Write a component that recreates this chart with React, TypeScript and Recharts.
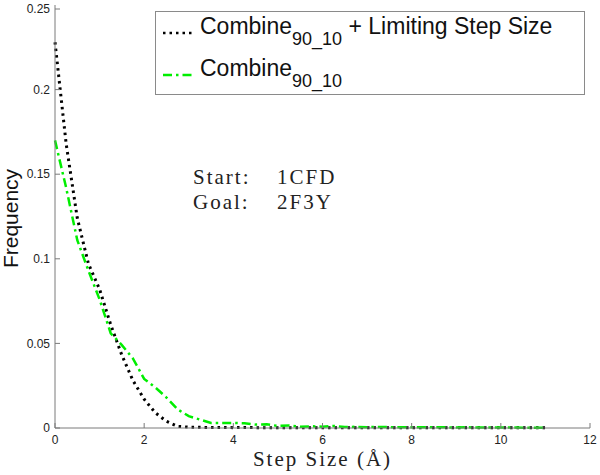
import { Label, Legend, Line, LineChart, XAxis, YAxis } from "recharts";

const stepSizes = [
  0, 0.25, 0.5, 0.75, 1, 1.25, 1.5, 1.75, 2, 2.25, 2.5, 2.75, 3, 3.25, 3.5,
  3.75, 4, 4.25, 4.5, 4.75, 5, 5.25, 5.5, 5.75, 6, 6.25, 6.5, 6.75, 7, 7.25,
  7.5, 7.75, 8, 8.25, 8.5, 8.75, 9, 9.25, 9.5, 9.75, 10, 10.25, 10.5, 10.75, 11,
];

// Combine_90_10 + Limiting Step Size
const limitedFreq = [
  0.228, 0.168, 0.124, 0.097, 0.082, 0.061, 0.043, 0.028, 0.017, 0.009, 0.004,
  0.001, 0.0005, 0.0004, 0.0003, 0.0003, 0.0002, 0.0003, 0.0002, 0.0002,
  0.0001, 0.0002, 0.0001, 0.0001, 0.0001, 0.0001, 0.0001, 0.0001, 0.0001,
  0.0001, 0.0001, 0.0001, 0.0001, 0.0001, 0.0001, 0.0001, 0.0001, 0.0001,
  0.0001, 0.0001, 0.0001, 0.0001, 0.0001, 0.0001, 0.0001,
];

// Combine_90_10
const combineFreq = [
  0.17, 0.142, 0.111, 0.093, 0.076, 0.056, 0.049, 0.041, 0.029, 0.024, 0.018,
  0.011, 0.007, 0.005, 0.003, 0.003, 0.003, 0.0028, 0.002, 0.0022, 0.0012,
  0.0015, 0.0008, 0.001, 0.0008, 0.0012, 0.0006, 0.0007, 0.0005, 0.0006,
  0.0005, 0.0005, 0.0004, 0.0005, 0.0004, 0.0004, 0.0003, 0.0004, 0.0003,
  0.0003, 0.0003, 0.0003, 0.0002, 0.0002, 0.0002,
];

const xTicks = [0, 2, 4, 6, 8, 10, 12];
const yTicks = [0, 0.05, 0.1, 0.15, 0.2, 0.25];

const legendItems = [
  { key: "limited", base: "Combine", sub: "90_10", suffix: " + Limiting Step Size" },
  { key: "combine", base: "Combine", sub: "90_10", suffix: "" },
];

const data = stepSizes.map((s, i) => ({
  step: s,
  limited: limitedFreq[i],
  combine: combineFreq[i],
}));

const AXIS = "#7a7a7a";
const SANS = "'Liberation Sans', Arial, sans-serif";
const SERIF = "'Liberation Serif', 'Times New Roman', serif";
const DOTTED = "2.5 4";
const DASHDOT = "9 4 2.5 4";

function XTick({ x, y, payload }: any) {
  return (
    <g>
      <line x1={x} x2={x} y1={y - 7} y2={y - 12} stroke={AXIS} />
      <text x={x} y={y} dy="0.71em" textAnchor="middle" fontSize={12} fontFamily={SANS} fill="#222">
        {payload.value}
      </text>
    </g>
  );
}

function YTick({ x, y, payload }: any) {
  return (
    <g>
      <line x1={x + 5} x2={x + 10} y1={y} y2={y} stroke={AXIS} />
      <text x={x} y={y} dy="0.355em" textAnchor="end" fontSize={12} fontFamily={SANS} fill="#222">
        {String(payload.value)}
      </text>
    </g>
  );
}

function LegendBox({ payload }: any) {
  const entries = payload || [];
  return (
    <div
      style={{
        border: "1px solid #8a8a8a",
        background: "#fff",
        width: 430,
        height: 84,
        boxSizing: "border-box",
        fontFamily: SANS,
        color: "#111",
        position: "relative",
      }}
    >
      {legendItems.map((item, i) => {
        const entry = entries.find((e: any) => e.dataKey === item.key);
        const color = entry ? entry.color : "#000";
        const dash = item.key === "limited" ? DOTTED : DASHDOT;
        const top = i === 0 ? 0 : 42;
        return (
          <div key={item.key} style={{ position: "absolute", left: 5, top, height: 42, whiteSpace: "nowrap" }}>
            <svg width={36} height={42} style={{ position: "absolute", left: 0, top: 0 }}>
              <line x1={2} x2={34} y1={21} y2={21} stroke={color} strokeWidth={2.5} strokeDasharray={dash} />
            </svg>
            <span style={{ position: "absolute", left: 39, top: 1, fontSize: 23, lineHeight: "26px" }}>
              {item.base}
              <span style={{ fontSize: 18, position: "relative", top: 11 }}>{item.sub}</span>
              {item.suffix}
            </span>
          </div>
        );
      })}
    </div>
  );
}

export default function App() {
  return (
    <div style={{ position: "absolute", left: 0, top: 0, width: 600, height: 475, background: "#fff" }}>
      <LineChart width={600} height={475} data={data} margin={{ top: 5, right: 10, left: 0, bottom: 0 }}>
        <XAxis
          dataKey="step"
          type="number"
          domain={[0, 12]}
          ticks={xTicks}
          height={47}
          stroke={AXIS}
          tickLine={false}
          tickSize={0}
          tickMargin={7}
          tick={<XTick />}
        >
          <Label
            content={({ viewBox }: any) => (
              <text
                x={viewBox.x + viewBox.width / 2}
                y={viewBox.y + 38}
                textAnchor="middle"
                fontSize={21}
                letterSpacing={2}
                fontFamily={SERIF}
                fill="#222"
              >
                Step Size (Å)
              </text>
            )}
          />
        </XAxis>
        <YAxis
          type="number"
          domain={[0, 0.25]}
          ticks={yTicks}
          width={55}
          stroke={AXIS}
          tickLine={false}
          tickSize={0}
          tickMargin={5}
          tick={<YTick />}
        >
          <Label
            content={({ viewBox }: any) => (
              <text
                x={18}
                y={viewBox.y + viewBox.height / 2 + 2}
                transform={`rotate(-90, 18, ${viewBox.y + viewBox.height / 2 + 2})`}
                textAnchor="middle"
                fontSize={21}
                fontFamily={SANS}
                fill="#111"
              >
                Frequency
              </text>
            )}
          />
        </YAxis>
        <Legend
          layout="horizontal"
          verticalAlign="middle"
          align="center"
          wrapperStyle={{ left: 155, top: 11, width: 432, height: 86 }}
          content={<LegendBox />}
        />
        <Line
          dataKey="limited"
          type="linear"
          stroke="#000000"
          strokeWidth={3}
          strokeDasharray={DOTTED}
          dot={false}
          isAnimationActive={false}
        />
        <Line
          dataKey="combine"
          type="linear"
          stroke="#00ee00"
          strokeWidth={2.5}
          strokeDasharray={DASHDOT}
          dot={false}
          isAnimationActive={false}
        />
      </LineChart>
      <div
        style={{
          position: "absolute",
          left: 193,
          top: 165,
          fontFamily: SERIF,
          fontSize: 21,
          letterSpacing: 2,
          color: "#222",
          lineHeight: "25px",
          whiteSpace: "pre",
        }}
      >
        <div>
          <span style={{ display: "inline-block", width: 84 }}>Start:</span>1CFD
        </div>
        <div>
          <span style={{ display: "inline-block", width: 84 }}>Goal:</span>2F3Y
        </div>
      </div>
    </div>
  );
}
